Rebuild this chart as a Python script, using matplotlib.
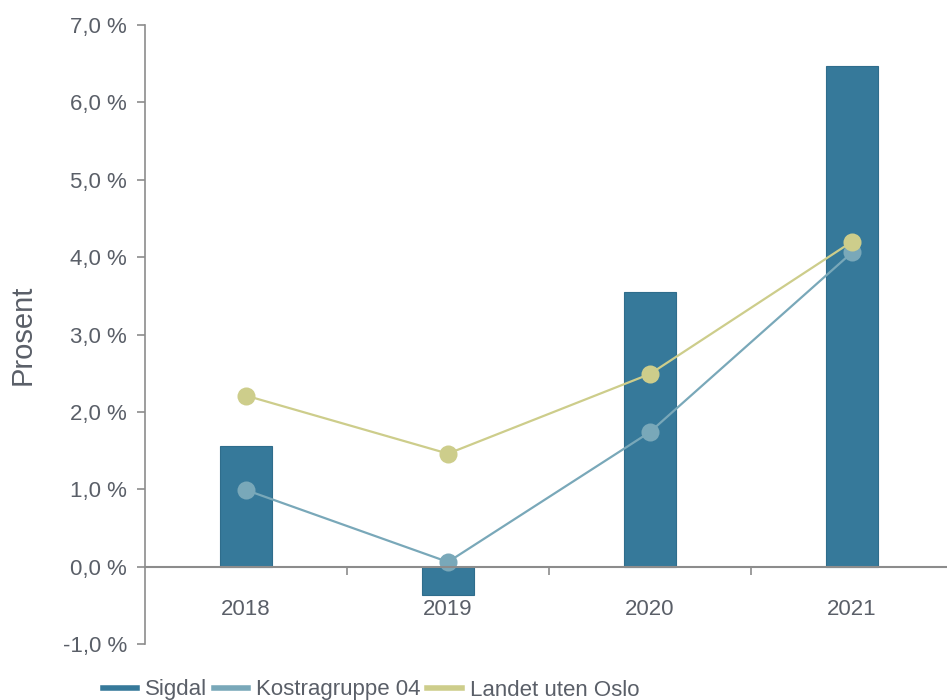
import numpy as np
import matplotlib
matplotlib.use('Agg')
import matplotlib.pyplot as plt
from matplotlib.ticker import FuncFormatter, FixedLocator
from matplotlib.lines import Line2D

plt.rcParams['font.family'] = ['Liberation Sans', 'DejaVu Sans']

years = ['2018', '2019', '2020', '2021']
sigdal = [1.56, -0.37, 3.55, 6.47]
kostra = [0.99, 0.06, 1.74, 4.06]
landet = [2.21, 1.46, 2.49, 4.20]

c_bar = '#36799a'
c_kostra = '#79a8b9'
c_landet = '#cdcd8b'
c_text = '#5a5f68'
c_axis = '#8c8c8c'

fig = plt.figure(figsize=(9.47, 7), dpi=100)
ax = fig.add_axes([145 / 947, 56 / 700, 808 / 947, 619 / 700])

x = np.arange(len(years))
ax.bar(x, sigdal, width=0.26, color=c_bar, edgecolor='#2f6d8c', linewidth=0.8,
       label='Sigdal', zorder=2)
ax.plot(x, kostra, color=c_kostra, lw=1.6, marker='o', markersize=13,
        markeredgewidth=0, label='Kostragruppe 04', zorder=3)
ax.plot(x, landet, color=c_landet, lw=1.6, marker='o', markersize=13,
        markeredgewidth=0, label='Landet uten Oslo', zorder=4)

ax.set_xlim(-0.5, 3.5)
ax.set_ylim(-1, 7)
ax.set_yticks(np.arange(-1, 8, 1))
ax.yaxis.set_major_formatter(FuncFormatter(lambda v, p: ('%.1f %%' % v).replace('.', ',')))

for s in ['top', 'right']:
    ax.spines[s].set_visible(False)
ax.spines['left'].set_color(c_axis)
ax.spines['left'].set_linewidth(1.2)
ax.spines['bottom'].set_position(('data', 0))
ax.spines['bottom'].set_color(c_axis)
ax.spines['bottom'].set_linewidth(1.5)
ax.spines['bottom'].set_zorder(5)

ax.set_xticks(x)
ax.set_xticklabels(years)
ax.xaxis.set_minor_locator(FixedLocator([0.5, 1.5, 2.5]))
ax.tick_params(axis='x', which='major', length=0, pad=23, labelsize=16, labelcolor=c_text)
ax.tick_params(axis='x', which='minor', length=6, width=1.2, color=c_axis, direction='out')
ax.tick_params(axis='y', length=6, width=1.2, color=c_axis, labelsize=16, labelcolor=c_text, pad=7)

ax.set_ylabel('Prosent', fontsize=21, color=c_text)
ax.yaxis.set_label_coords(-108 / 808, 0.5)

leg_handles = [Line2D([0], [0], color=c_bar, lw=4),
               Line2D([0], [0], color=c_kostra, lw=4),
               Line2D([0], [0], color=c_landet, lw=4)]
fig.legend(leg_handles, ['Sigdal', 'Kostragruppe 04', 'Landet uten Oslo'],
           loc='center left', bbox_to_anchor=(94 / 947, 10 / 700), ncol=3,
           frameon=False, fontsize=16, handlelength=1.55, handletextpad=0.35,
           columnspacing=0.3, labelcolor=c_text, borderaxespad=0)

fig.savefig('out.png', dpi=100)
